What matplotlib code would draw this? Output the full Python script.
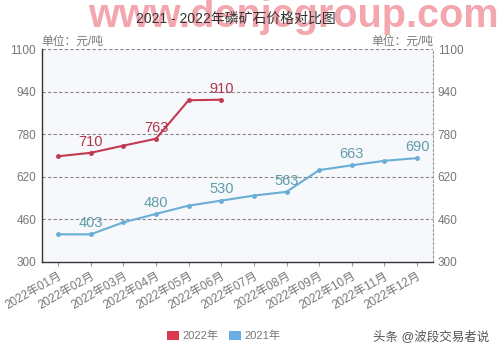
import matplotlib
matplotlib.use("Agg")
import matplotlib.pyplot as plt
from matplotlib.patches import Patch

plt.rcParams['font.family'] = ['Liberation Sans', 'Noto Sans CJK SC', 'DejaVu Sans']

months = ["2022年01月", "2022年02月", "2022年03月", "2022年04月", "2022年05月", "2022年06月",
          "2022年07月", "2022年08月", "2022年09月", "2022年10月", "2022年11月", "2022年12月"]
price_2022 = [697, 710, 737, 763, 908, 910]
price_2021 = [403, 403, 448, 480, 511, 530, 549, 563, 645, 663, 680, 690]
labels_2022 = {1: 710, 3: 763, 5: 910}
labels_2021 = {1: 403, 3: 480, 5: 530, 7: 563, 9: 663, 11: 690}
yticks = [300, 460, 620, 780, 940, 1100]

red = "#c23a50"
blue = "#6aaed6"
red_lab = "#b0374a"
blue_lab = "#5f9eaa"

fig = plt.figure(figsize=(4.99, 3.57), dpi=100)
ax = fig.add_axes([0.0836, 0.267, 0.785, 0.595])
ax.set_facecolor("#f6f8fc")

x22 = list(range(len(price_2022)))
x21 = list(range(len(price_2021)))
ax.plot(x22, price_2022, color=red, lw=1.5, marker='o', ms=2.5, zorder=3)
ax.plot(x21, price_2021, color=blue, lw=1.5, marker='o', ms=2.5, zorder=3)

for i, v in labels_2022.items():
    ax.annotate(str(v), (i, price_2022[i]), xytext=(0, 3), textcoords='offset points',
                ha='center', va='bottom', fontsize=10.5, color=red_lab, zorder=4)
for i, v in labels_2021.items():
    ax.annotate(str(v), (i, price_2021[i]), xytext=(0, 3), textcoords='offset points',
                ha='center', va='bottom', fontsize=10.5, color=blue_lab, zorder=4)

ax.set_xlim(-0.5, len(months) - 0.5)
ax.set_ylim(300, 1100)
ax.set_yticks(yticks)
ax.set_yticklabels([str(t) for t in yticks])
ax.tick_params(axis='y', length=0, labelsize=8.5, labelcolor="#777777", pad=4)
ax.set_xticks(x21)
ax.set_xticklabels(months, rotation=30, ha='right', rotation_mode='anchor')
ax.tick_params(axis='x', length=3, color="#999999", labelsize=8.5, labelcolor="#777777", pad=3)

for t in yticks[1:]:
    ax.axhline(t, color="#888888", lw=0.8, ls=(0, (3, 2)), zorder=1)

ax.spines['top'].set_visible(False)
ax.spines['right'].set_linestyle((0, (2, 2)))
ax.spines['right'].set_color("#999999")
ax.spines['right'].set_linewidth(0.8)
ax.spines['left'].set_color("#333333")
ax.spines['bottom'].set_color("#333333")
ax.spines['left'].set_linewidth(1.0)
ax.spines['bottom'].set_linewidth(1.0)

ax2 = ax.twinx()
ax2.set_ylim(300, 1100)
ax2.set_yticks(yticks)
ax2.set_yticklabels([str(t) for t in yticks])
ax2.tick_params(axis='y', length=0, labelsize=8.5, labelcolor="#777777", pad=3)
for s in ax2.spines.values():
    s.set_visible(False)

ax.text(0.0, 1.005, "单位：元/吨", transform=ax.transAxes, ha='left', va='bottom',
        fontsize=8.5, color="#777777")
ax.text(1.0, 1.005, "单位：元/吨", transform=ax.transAxes, ha='right', va='bottom',
        fontsize=8.5, color="#777777")

# watermark behind title
fig.text(0.589, 0.924, "www.denjcgroup.com", ha='center', va='baseline', fontsize=28.5,
         fontweight='bold', color="#f3a6ae", family=['Liberation Sans'])
fig.text(0.473, 0.948, "2021 - 2022年磷矿石价格对比图", ha='center', va='center',
         fontsize=10, color="#333333")

handles = [Patch(facecolor="#d93a4e", edgecolor='none'), Patch(facecolor="#6aaee6", edgecolor='none')]
fig.legend(handles, ["2022年", "2021年"], loc='center', bbox_to_anchor=(0.448, 0.058), ncol=2,
           frameon=False, fontsize=8, handlelength=1.1, handleheight=0.8, handletextpad=0.3,
           columnspacing=0.9, labelcolor="#777777")

fig.text(0.98, 0.058, "头条 @波段交易者说", ha='right', va='center', fontsize=9, color="#555555")

fig.savefig("out.png", dpi=100)
